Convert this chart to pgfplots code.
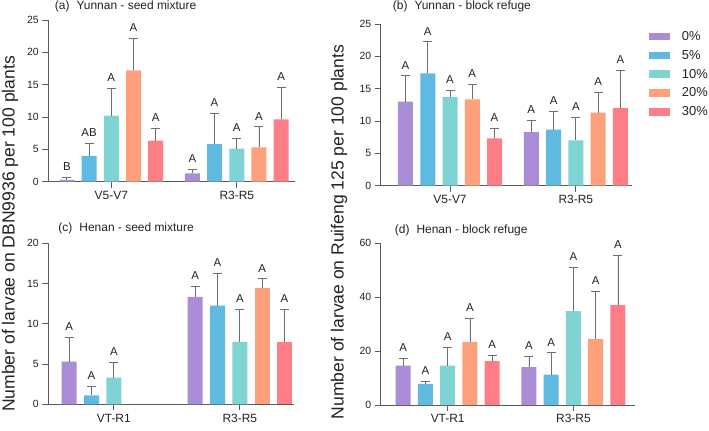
\documentclass[border=0pt]{standalone}
\usepackage{fontspec}
\setmainfont{Liberation Sans}
\usepackage{pgfplots}
\usepackage{pgfplotstable}
\pgfplotsset{compat=1.18}

\definecolor{c0}{HTML}{AA8CD7}
\definecolor{c1}{HTML}{5FB9E1}
\definecolor{c2}{HTML}{80D3D3}
\definecolor{c3}{HTML}{FFA07D}
\definecolor{c4}{HTML}{FF7D84}
\definecolor{axc}{HTML}{5A5A5A}
\definecolor{errc}{HTML}{6E6E6E}
\definecolor{txt}{HTML}{222222}

% (a) Yunnan - seed mixture
\pgfplotstableread{
g y0 e0 l0 y1 e1 l1 y2 e2 l2 y3 e3 l3 y4 e4 l4
0 0.3 0.35 B 4.0 1.95 AB 10.2 4.25 A 17.2 5.0 A 6.35 1.9 A
1 1.3 0.65 A 5.8 4.8 A 5.1 1.55 A 5.3 3.2 A 9.65 4.95 A
}\tabA
% (b) Yunnan - block refuge
\pgfplotstableread{
g y0 e0 l0 y1 e1 l1 y2 e2 l2 y3 e3 l3 y4 e4 l4
0 13.0 4.0 A 17.35 4.9 A 13.7 1.0 A 13.35 2.3 A 7.3 1.55 A
1 8.3 1.8 A 8.65 2.85 A 7.0 3.6 A 11.3 3.2 A 12.0 5.8 A
}\tabB
% (c) Henan - seed mixture
\pgfplotstableread{
g y0 e0 l0 y1 e1 l1 y2 e2 l2 y3 e3 l3 y4 e4 l4
0 5.3 3.0 A 1.1 1.1 A 3.3 1.95 A nan nan x nan nan x
1 13.35 1.35 A 12.25 4.0 A 7.75 4.05 A 14.45 1.15 A 7.75 4.05 A
}\tabC
% (d) Henan - block refuge
\pgfplotstableread{
g y0 e0 l0 y1 e1 l1 y2 e2 l2 y3 e3 l3 y4 e4 l4
0 14.6 2.7 A 7.8 1.1 A 14.6 6.9 A 23.4 8.9 A 16.3 2.1 A
1 14.1 4.0 A 11.3 8.1 A 34.8 16.3 A 24.4 17.9 A 37.1 18.4 A
}\tabD

\newcommand\series[4]{%
  \addplot[ybar, bar width=15bp, bar shift=0pt, fill=#3, draw=none,
    error bars/.cd, y dir=plus, y explicit,
    error bar style={errc, line width=0.8pt},
    error mark options={rotate=90, errc, line width=0.8pt, mark size=4.5bp}]
    table[x expr=\thisrow{g}#4, y=y#2, y error=e#2]{#1};
  \addplot[draw=none, forget plot, nodes near coords, point meta=explicit symbolic,
    nodes near coords style={anchor=south, inner sep=0pt, yshift=6.5bp,
      text=txt, font=\fontsize{11.5}{11.5}\selectfont}]
    table[x expr=\thisrow{g}#4, y expr=\thisrow{y#2}+\thisrow{e#2}, meta=l#2]{#1};
}
\newcommand\allseries[1]{%
  \series{#1}{0}{c0}{-0.354}
  \series{#1}{1}{c1}{-0.177}
  \series{#1}{2}{c2}{+0.0}
  \series{#1}{3}{c3}{+0.177}
  \series{#1}{4}{c4}{+0.354}
}

\pgfplotsset{
  every axis title shift=0pt,
  panel/.style={
    scale only axis, anchor=south west,
    axis x line*=bottom, axis y line*=left,
    axis line style={axc, line width=0.8pt, -},
    tick style={axc, line width=0.8pt},
    tick align=outside, major tick length=6bp,
    xtick={0,1}, ymin=0, clip=false,
    /pgf/number format/assume math mode=true,
    yticklabel style={font=\fontsize{10.5}{10.5}\selectfont, text=txt},
    xticklabel style={font=\fontsize{12}{12}\selectfont, text=txt},
    title style={at={(0,1)}, anchor=base west, inner sep=0pt,
      font=\fontsize{12}{12}\selectfont, text=txt},
  }
}

\begin{document}
\begin{tikzpicture}
\path[use as bounding box] (0,0) rectangle (709bp,431bp);

% (a)
\begin{axis}[panel, at={(48.3bp,249.3bp)}, width=246.7bp, height=161.7bp,
  xmin=-0.502, xmax=1.464, ymax=25, ytick={0,5,...,25},
  xticklabels={V5-V7,R3-R5},
  title={(a)\hspace{7bp}Yunnan - seed mixture},
  title style={xshift=6.5bp, yshift=10bp}]
\allseries{\tabA}
\end{axis}

% (b)
\begin{axis}[panel, at={(380.7bp,245.3bp)}, width=251bp, height=161.7bp,
  xmin=-0.551, xmax=1.444, ymax=25, ytick={0,5,...,25},
  xticklabels={V5-V7,R3-R5},
  title={(b)\hspace{7bp}Yunnan - block refuge},
  title style={xshift=12bp, yshift=14bp},
  legend entries={0\%,5\%,10\%,20\%,30\%},
  legend style={at={(1.07,0.965)}, anchor=north west, draw=none, fill=none,
    font=\fontsize{13}{13}\selectfont, text=txt, row sep=5.3bp, inner sep=0pt,
    nodes={inner sep=1.5bp},
    /tikz/every odd column/.append style={column sep=10bp}},
  legend cell align=left,
  legend image code/.code={\fill (0bp,-3.8bp) rectangle (21bp,3.8bp);},
  ]
\allseries{\tabB}
\end{axis}

% (c)
\begin{axis}[panel, at={(48.3bp,26.7bp)}, width=245.7bp, height=161bp,
  xmin=-0.52, xmax=1.43, ymax=20, ytick={0,5,...,20},
  xticklabels={VT-R1,R3-R5},
  title={(c)\hspace{7bp}Henan - seed mixture},
  title style={xshift=10bp, yshift=11.6bp}]
\allseries{\tabC}
\end{axis}

% (d)
\begin{axis}[panel, at={(380.7bp,26bp)}, width=254.3bp, height=161.7bp,
  xmin=-0.533, xmax=1.49, ymax=60, ytick={0,20,40,60},
  xticklabels={VT-R1,R3-R5},
  title={(d)\hspace{7bp}Henan - block refuge},
  title style={xshift=14bp, yshift=10bp}]
\allseries{\tabD}
\end{axis}

\node[rotate=90, font=\fontsize{17.6}{17.6}\selectfont, text=txt] at (10bp,197bp)
  {Number of larvae on DBN9936 per 100 plants};
\node[rotate=90, font=\fontsize{17.6}{17.6}\selectfont, text=txt] at (339bp,199bp)
  {Number of larvae on Ruifeng 125 per 100 plants};
\end{tikzpicture}
\end{document}
